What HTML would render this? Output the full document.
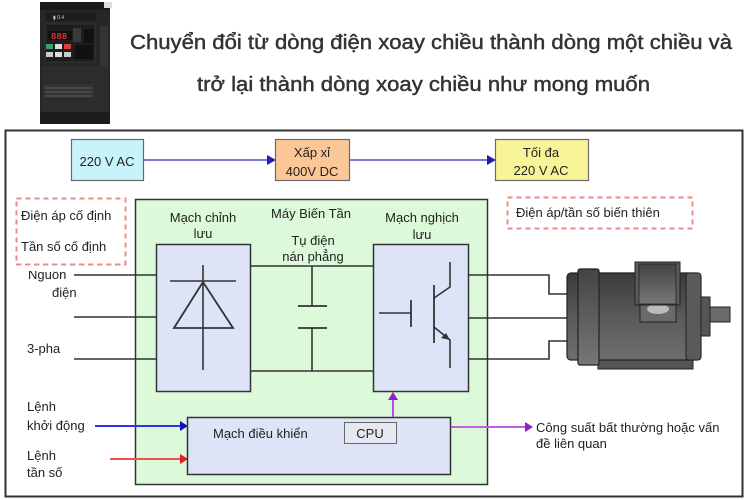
<!DOCTYPE html>
<html><head><meta charset="utf-8"><style>
html,body{margin:0;padding:0;background:#fff;}
body{width:750px;height:500px;overflow:hidden;position:relative;}
svg{position:absolute;left:0;top:0;}
.t{font-family:"Liberation Sans","DejaVu Sans",sans-serif;fill:#222;font-size:13px;}
.h{font-family:"Liberation Sans","DejaVu Sans",sans-serif;fill:#333;font-size:20px;stroke:#333;stroke-width:0.45px;}
</style></head><body>
<svg width="750" height="500" viewBox="0 0 750 500" xmlns="http://www.w3.org/2000/svg">
<defs>
<linearGradient id="mg" x1="0" y1="0" x2="0" y2="1"><stop offset="0" stop-color="#3a3a3a"/><stop offset="0.5" stop-color="#5a5a5a"/><stop offset="1" stop-color="#6e6e6e"/></linearGradient>
<linearGradient id="mg2" x1="0" y1="0" x2="0" y2="1"><stop offset="0" stop-color="#444"/><stop offset="1" stop-color="#777"/></linearGradient>
</defs>
<!-- inverter device image -->
<rect x="40" y="2" width="70" height="122" fill="#262626"/>
<rect x="40" y="2" width="70" height="8" fill="#1a1a1a"/>
<rect x="104" y="2" width="8" height="6" fill="#ddd"/>
<rect x="46" y="13" width="50" height="8" fill="#1c1c1c"/>
<text x="53" y="19" font-family="Liberation Sans" font-size="5" fill="#ccc">▮ 0.4</text>
<rect x="45" y="24" width="50" height="38" fill="#1e1e1e" stroke="#444" stroke-width="0.5"/>
<rect x="48" y="31" width="24" height="9" fill="#111"/>
<text x="51" y="39" font-family="Liberation Mono" font-size="9" font-weight="bold" fill="#e23030">888</text>
<rect x="73" y="28" width="8" height="14" fill="#3a3a3a"/>
<rect x="84" y="29" width="10" height="14" fill="#111"/>
<rect x="75" y="45" width="18" height="14" fill="#111"/>
<rect x="46" y="44" width="7" height="5" fill="#3aa070"/>
<rect x="55" y="44" width="7" height="5" fill="#ddd"/>
<rect x="64" y="44" width="7" height="5" fill="#d84040"/>
<rect x="46" y="52" width="7" height="5" fill="#ccc"/>
<rect x="55" y="52" width="7" height="5" fill="#ddd"/>
<rect x="64" y="52" width="7" height="5" fill="#ccc"/>
<rect x="100" y="25" width="8" height="50" fill="#333"/>
<rect x="42" y="66" width="66" height="50" fill="#2c2c2c"/>
<rect x="44" y="84" width="50" height="14" fill="#333"/>
<line x1="45" y1="88" x2="92" y2="88" stroke="#888" stroke-width="0.5"/>
<line x1="45" y1="92" x2="92" y2="92" stroke="#888" stroke-width="0.5"/>
<line x1="45" y1="96" x2="92" y2="96" stroke="#888" stroke-width="0.5"/>
<rect x="40" y="112" width="70" height="12" fill="#1c1c1c"/>

<text class="h" x="130" y="49" textLength="602" lengthAdjust="spacingAndGlyphs">Chuyển đổi từ dòng điện xoay chiều thành dòng một chiều và</text>
<text class="h" x="197" y="91" textLength="453" lengthAdjust="spacingAndGlyphs">trở lại thành dòng xoay chiều như mong muốn</text>

<!-- outer frame -->
<rect x="5.5" y="130.5" width="737" height="366" fill="#fff" stroke="#333" stroke-width="2"/>

<!-- top flow -->
<line x1="143" y1="160" x2="270" y2="160" stroke="#7a78e0" stroke-width="2"/>
<polygon points="276,160 267,155 267,165" fill="#2020b0"/>
<line x1="349" y1="160" x2="490" y2="160" stroke="#7a78e0" stroke-width="2"/>
<polygon points="496,160 487,155 487,165" fill="#2020b0"/>
<rect x="71.5" y="139.5" width="72" height="41" fill="#c9f3fb" stroke="#6a6a6a" stroke-width="1.2"/>
<text class="t" x="107" y="166" text-anchor="middle" font-size="14">220 V AC</text>
<rect x="275.5" y="139.5" width="74" height="41" fill="#fbc797" stroke="#6a6a6a" stroke-width="1.2"/>
<text class="t" x="312" y="157" text-anchor="middle" font-size="13">Xấp xỉ</text>
<text class="t" x="312" y="176" text-anchor="middle" font-size="15">400V DC</text>
<rect x="495.5" y="139.5" width="93" height="41" fill="#f8f498" stroke="#6a6a6a" stroke-width="1.2"/>
<text class="t" x="541" y="157" text-anchor="middle" font-size="13">Tối đa</text>
<text class="t" x="541" y="175" text-anchor="middle" font-size="14">220 V AC</text>

<!-- dashed boxes -->
<rect x="16.5" y="198.5" width="109" height="66" fill="#fff" stroke="#f08a8a" stroke-width="2" stroke-dasharray="5,4"/>
<text class="t" x="21" y="220">Điện áp cố định</text>
<text class="t" x="21" y="251">Tần số cố định</text>
<rect x="507.5" y="197.5" width="185" height="31" fill="#fff" stroke="#f08a8a" stroke-width="2" stroke-dasharray="5,4"/>
<text class="t" x="516" y="217">Điện áp/tần số biến thiên</text>

<!-- green box -->
<rect x="135.5" y="199.5" width="352" height="285" fill="#dcf9d9" stroke="#333" stroke-width="1.5"/>
<text class="t" x="311" y="218" text-anchor="middle">Máy Biến Tần</text>
<text class="t" x="203" y="222" text-anchor="middle">Mạch chỉnh</text>
<text class="t" x="203" y="238" text-anchor="middle">lưu</text>
<text class="t" x="313" y="245" text-anchor="middle">Tụ điện</text>
<text class="t" x="313" y="261" text-anchor="middle">nán phẳng</text>
<text class="t" x="422" y="222" text-anchor="middle">Mạch nghịch</text>
<text class="t" x="422" y="239" text-anchor="middle">lưu</text>

<!-- bus + capacitor -->
<line x1="250" y1="266" x2="373" y2="266" stroke="#333" stroke-width="1.6"/>
<line x1="250" y1="371" x2="373" y2="371" stroke="#333" stroke-width="1.6"/>
<line x1="312" y1="266" x2="312" y2="306" stroke="#333" stroke-width="1.6"/>
<line x1="298" y1="306" x2="327" y2="306" stroke="#333" stroke-width="1.8"/>
<line x1="298" y1="328" x2="327" y2="328" stroke="#333" stroke-width="1.8"/>
<line x1="312" y1="328" x2="312" y2="371" stroke="#333" stroke-width="1.6"/>

<!-- rectifier -->
<rect x="156.5" y="244.5" width="94" height="147" fill="#dde4f8" stroke="#333" stroke-width="1.5"/>
<line x1="203" y1="265" x2="203" y2="370" stroke="#333" stroke-width="1.6"/>
<line x1="170" y1="281" x2="236" y2="281" stroke="#333" stroke-width="1.6"/>
<polygon points="203,282 174,328 233,328" fill="none" stroke="#333" stroke-width="1.8"/>

<!-- inverter -->
<rect x="373.5" y="244.5" width="95" height="147" fill="#dde4f8" stroke="#333" stroke-width="1.5"/>
<line x1="379" y1="313" x2="411" y2="313" stroke="#333" stroke-width="1.6"/>
<line x1="411" y1="300" x2="411" y2="327" stroke="#333" stroke-width="1.8"/>
<line x1="434" y1="285" x2="434" y2="343" stroke="#333" stroke-width="1.8"/>
<polyline points="434,298 450,287 450,262" fill="none" stroke="#333" stroke-width="1.6"/>
<polyline points="434,327 450,340 450,368" fill="none" stroke="#333" stroke-width="1.6"/>
<polygon points="450,340 441,338 446,333" fill="#333"/>

<!-- input lines -->
<line x1="74" y1="275" x2="156" y2="275" stroke="#333" stroke-width="1.6"/>
<line x1="74" y1="317" x2="156" y2="317" stroke="#333" stroke-width="1.6"/>
<line x1="74" y1="359" x2="156" y2="359" stroke="#333" stroke-width="1.6"/>
<text class="t" x="28" y="279">Nguồn</text>
<text class="t" x="52" y="297">điện</text>
<text class="t" x="27" y="353">3-pha</text>
<rect x="20" y="265" width="60" height="6" fill="#fff"/>
<line x1="16" y1="264.5" x2="126" y2="264.5" stroke="#f08a8a" stroke-width="2" stroke-dasharray="5,4"/>

<!-- output lines -->
<polyline points="468,275 549,275 549,294 568,294" fill="none" stroke="#333" stroke-width="1.6"/>
<line x1="468" y1="318" x2="568" y2="318" stroke="#333" stroke-width="1.6"/>
<polyline points="468,359 549,359 549,341 568,341" fill="none" stroke="#333" stroke-width="1.6"/>

<!-- motor -->
<rect x="598" y="358" width="95" height="11" fill="#555" stroke="#222" stroke-width="1"/>
<rect x="567" y="273" width="134" height="87" rx="4" fill="url(#mg)" stroke="#222" stroke-width="1.2"/>
<rect x="578" y="269" width="21" height="96" rx="2" fill="url(#mg2)" stroke="#222" stroke-width="1.2"/>
<rect x="686" y="273" width="15" height="87" rx="3" fill="#5a5a5a" stroke="#222" stroke-width="1"/>
<rect x="640" y="305" width="36" height="17" fill="#6a6a6a" stroke="#222" stroke-width="1"/>
<ellipse cx="658" cy="309" rx="11" ry="5" fill="#bbb"/>
<rect x="635" y="262" width="45" height="43" fill="#5a5a5a" stroke="#222" stroke-width="1"/>
<rect x="639" y="264" width="37" height="40" fill="url(#mg2)" stroke="#222" stroke-width="0.8"/>
<rect x="701" y="297" width="9" height="39" fill="#555" stroke="#222" stroke-width="1"/>
<rect x="710" y="307" width="20" height="15" fill="#6a6a6a" stroke="#222" stroke-width="1"/>

<!-- control -->
<text class="t" x="27" y="411">Lệnh</text>
<text class="t" x="27" y="430">khởi động</text>
<text class="t" x="27" y="460">Lệnh</text>
<text class="t" x="27" y="477">tần số</text>
<line x1="95" y1="426" x2="182" y2="426" stroke="#3030f0" stroke-width="2"/>
<polygon points="188,426 180,421 180,431" fill="#1010c0"/>
<line x1="110" y1="459" x2="182" y2="459" stroke="#f05050" stroke-width="2"/>
<polygon points="188,459 180,454 180,464" fill="#e02020"/>
<rect x="187.5" y="417.5" width="263" height="57" fill="#dde4f8" stroke="#333" stroke-width="1.5"/>
<text class="t" x="213" y="438">Mạch điều khiển</text>
<rect x="344.5" y="422.5" width="52" height="21" fill="#e6e8f2" stroke="#666" stroke-width="1"/>
<text class="t" x="370" y="438" text-anchor="middle">CPU</text>
<line x1="393" y1="417" x2="393" y2="398" stroke="#b050d8" stroke-width="2"/>
<polygon points="393,392 388,400 398,400" fill="#9020c0"/>
<line x1="451" y1="427" x2="526" y2="427" stroke="#c060e0" stroke-width="2"/>
<polygon points="533,427 525,422 525,432" fill="#9020c0"/>
<text class="t" x="536" y="432">Công suất bất thường hoặc vấn</text>
<text class="t" x="536" y="448">đề liên quan</text>
</svg>
</body></html>
